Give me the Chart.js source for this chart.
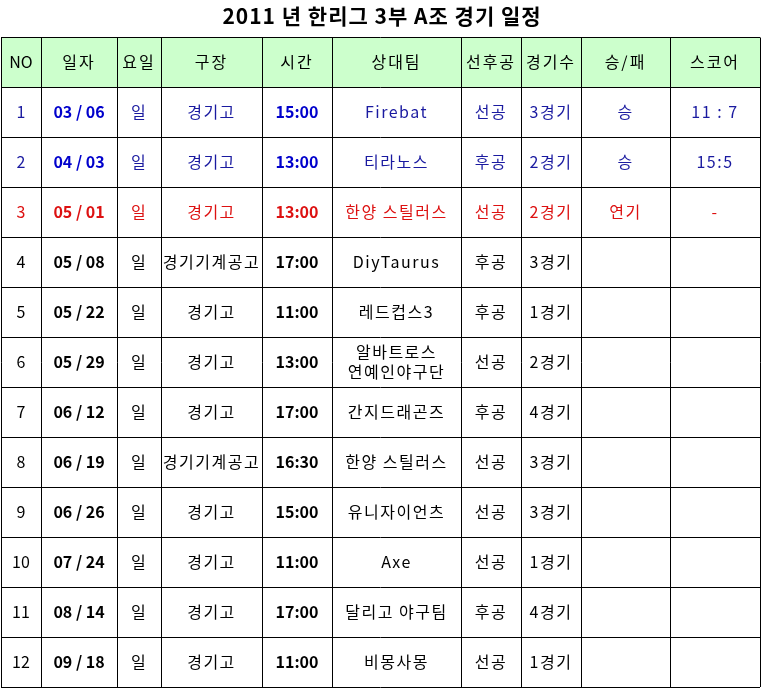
<!DOCTYPE html>
<html>
<head>
<meta charset="utf-8">
<script src="https://cdn.jsdelivr.net/npm/chart.js@4.4.0/dist/chart.umd.min.js"></script>
<style>
  html, body { margin: 0; padding: 0; background: #fff; }
  #wrap { width: 761px; height: 689px; }
</style>
</head>
<body>
<div id="wrap"><canvas id="sheet"></canvas></div>
<script>
const title = '2011 년 한리그 3부 A조 경기 일정';
const headers = ['NO', '일자', '요일', '구장', '시간', '상대팀', '선후공', '경기수', '승/패', '스코어'];
const numbers = ['1', '2', '3', '4', '5', '6', '7', '8', '9', '10', '11', '12'];
const dates = ['03 / 06', '04 / 03', '05 / 01', '05 / 08', '05 / 22', '05 / 29', '06 / 12', '06 / 19', '06 / 26', '07 / 24', '08 / 14', '09 / 18'];
const days = ['일', '일', '일', '일', '일', '일', '일', '일', '일', '일', '일', '일'];
const grounds = ['경기고', '경기고', '경기고', '경기기계공고', '경기고', '경기고', '경기고', '경기기계공고', '경기고', '경기고', '경기고', '경기고'];
const times = ['15:00', '13:00', '13:00', '17:00', '11:00', '13:00', '17:00', '16:30', '15:00', '11:00', '17:00', '11:00'];
const opponents = ['Firebat', '티라노스', '한양 스틸러스', 'DiyTaurus', '레드컵스3', '알바트로스\n연예인야구단', '간지드래곤즈', '한양 스틸러스', '유니자이언츠', 'Axe', '달리고 야구팀', '비몽사몽'];
const order = ['선공', '후공', '선공', '후공', '후공', '선공', '후공', '선공', '선공', '선공', '후공', '선공'];
const games = ['3경기', '2경기', '2경기', '3경기', '1경기', '2경기', '4경기', '3경기', '3경기', '1경기', '4경기', '1경기'];
const results = ['승', '승', '연기', '', '', '', '', '', '', '', '', ''];
const scores = ['11 : 7', '15:5', '-', '', '', '', '', '', '', '', '', ''];
const rowStatus = ['played', 'played', 'postponed', '', '', '', '', '', '', '', '', ''];

const columns = [numbers, dates, days, grounds, times, opponents, order, games, results, scores];
const boldCols = [1, 4];

// layout (sheet units = pixels of the reference)
const colEdges = [1, 41, 117, 161, 262, 332, 461, 521, 581, 670, 760];
const titleBottom = 37, headBottom = 87, rowH = 50;

const FONT = '"Noto Sans CJK KR", "Noto Sans", sans-serif';

const tablePlugin = {
  id: 'table',
  afterDraw(chart) {
    const ctx = chart.ctx;
    const xs = chart.scales.x, ys = chart.scales.y;
    const X = v => xs.getPixelForValue(v);
    const Y = v => ys.getPixelForValue(v);
    const left = X(colEdges[0]), right = X(colEdges[colEdges.length - 1]);
    const bottom = headBottom + rowH * numbers.length;

    ctx.save();
    ctx.fillStyle = '#ccffcc';
    ctx.fillRect(left, Y(titleBottom), right - left, Y(headBottom) - Y(titleBottom));

    ctx.fillStyle = '#000';
    ctx.font = 'bold 21px ' + FONT;
    ctx.textAlign = 'center';
    ctx.textBaseline = 'middle';
    ctx.letterSpacing = '1px';
    ctx.fillText(title, X(382), Y(16));

    ctx.strokeStyle = '#000';
    ctx.lineWidth = 1;
    ctx.beginPath();
    for (let r = 0; r <= numbers.length; r++) {
      const y = Math.round(Y(headBottom + r * rowH)) + 0.5;
      ctx.moveTo(left, y); ctx.lineTo(right, y);
    }
    const yt = Math.round(Y(titleBottom)) + 0.5;
    ctx.moveTo(left, yt); ctx.lineTo(right, yt);
    colEdges.forEach(e => {
      const x = Math.round(X(e)) + 0.5;
      ctx.moveTo(x, yt); ctx.lineTo(x, Y(bottom));
    });
    ctx.stroke();

    headers.forEach((h, c) => {
      ctx.font = '16px ' + FONT;
      ctx.letterSpacing = c === 0 ? '0px' : '2px';
      ctx.fillStyle = '#000';
      ctx.fillText(h, X((colEdges[c] + colEdges[c + 1]) / 2), Y((titleBottom + headBottom) / 2));
    });

    numbers.forEach((_, r) => {
      const status = rowStatus[r];
      const color = status === 'played' ? '#1a1aa0' : status === 'postponed' ? '#dd1111' : '#000';
      const cy = (headBottom + r * rowH + headBottom + (r + 1) * rowH) / 2;
      columns.forEach((col, c) => {
        const text = col[r];
        if (!text) return;
        const bold = boldCols.includes(c);
        ctx.font = (bold ? 'bold ' : '') + '16px ' + FONT;
        ctx.letterSpacing = bold || c === 0 ? '0px' : '1.5px';
        ctx.fillStyle = (bold && status === 'played') ? '#0000cc' : color;
        const cx = X((colEdges[c] + colEdges[c + 1]) / 2);
        const lines = text.split('\n');
        lines.forEach((ln, i) => {
          const off = (i - (lines.length - 1) / 2) * 20;
          ctx.fillText(ln, cx, Y(cy) + off);
        });
      });
    });
    ctx.restore();
  }
};

const points = numbers.map((_, r) => ({x: 20, y: headBottom + r * rowH + rowH / 2}));

new Chart(document.getElementById('sheet'), {
  type: 'scatter',
  data: {datasets: [{data: points, pointRadius: 0}]},
  options: {
    responsive: true,
    maintainAspectRatio: false,
    animation: false,
    layout: {padding: 0},
    plugins: {legend: {display: false}, tooltip: {enabled: false}},
    scales: {
      x: {type: 'linear', min: 0, max: 761, display: false},
      y: {type: 'linear', min: 0, max: 689, reverse: true, display: false}
    }
  },
  plugins: [tablePlugin]
});
</script>
</body>
</html>
